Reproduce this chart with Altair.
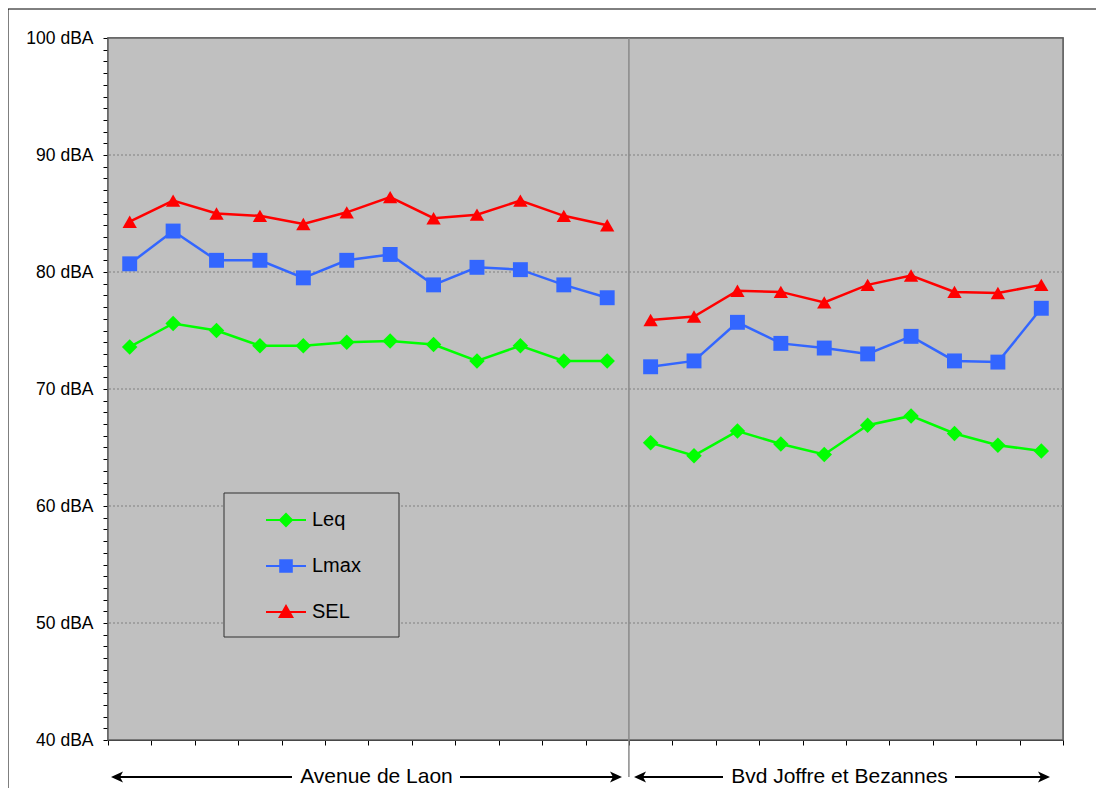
import altair as alt
import pandas as pd

# ---------------- data ----------------
series_names = ["Leq", "Lmax", "SEL"]
series_colors = ["#00ff00", "#3366ff", "#ff0000"]
group_names = ["Avenue de Laon", "Bvd Joffre et Bezannes"]

leq_avenue = [73.6, 75.6, 75.0, 73.7, 73.7, 74.0, 74.1, 73.8, 72.4, 73.7, 72.4, 72.4]
lmax_avenue = [80.7, 83.5, 81.0, 81.0, 79.5, 81.0, 81.5, 78.9, 80.4, 80.2, 78.9, 77.8]
sel_avenue = [84.3, 86.1, 85.0, 84.8, 84.1, 85.1, 86.4, 84.6, 84.9, 86.1, 84.8, 84.0]

leq_bvd = [65.4, 64.3, 66.4, 65.3, 64.4, 66.9, 67.7, 66.2, 65.2, 64.7]
lmax_bvd = [71.9, 72.4, 75.7, 73.9, 73.5, 73.0, 74.5, 72.4, 72.3, 76.9]
sel_bvd = [75.9, 76.2, 78.4, 78.3, 77.4, 78.9, 79.7, 78.3, 78.2, 78.9]

grid_levels = [50, 60, 70, 80, 90]
y_ticks = list(range(40, 101))
y_min, y_max = 40, 100

# ---------------- table ----------------
groups = [
    (group_names[0], {"Leq": leq_avenue, "Lmax": lmax_avenue, "SEL": sel_avenue}),
    (group_names[1], {"Leq": leq_bvd, "Lmax": lmax_bvd, "SEL": sel_bvd}),
]
rows = []
offset = 0
for gname, d in groups:
    n = len(d["Leq"])
    for s in series_names:
        for i, v in enumerate(d[s]):
            rows.append({"idx": offset + i, "group": gname, "series": s, "value": v})
    offset += n
df = pd.DataFrame(rows)
n_cat = offset
x_bounds = [i - 0.5 for i in range(n_cat + 1)]
separator_pos = len(leq_avenue) - 0.5

FONT = "Liberation Sans"

x_scale = alt.Scale(domain=[-0.5, n_cat - 0.5], nice=False, zero=False)
y_scale = alt.Scale(domain=[y_min, y_max], nice=False, zero=False)
x_axis = alt.Axis(values=x_bounds, labels=False, ticks=True, tickSize=5, grid=False,
                  title=None, domainColor="black", tickColor="black",
                  domainWidth=1, tickWidth=1)
y_axis = alt.Axis(values=y_ticks,
                  labelExpr="datum.value % 10 === 0 ? datum.value + ' dBA' : ''",
                  labelOverlap=False, labelFlush=False, grid=False, title=None,
                  tickSize=5, labelPadding=10, labelFontSize=17.5, labelFont=FONT,
                  labelColor="black", domainColor="black", tickColor="black",
                  domainWidth=1, tickWidth=1)

X = alt.X("idx:Q", scale=x_scale, axis=x_axis)
Y = alt.Y("value:Q", scale=y_scale, axis=y_axis)

color_scale = alt.Scale(domain=series_names, range=series_colors)

one = alt.InlineData(values=[{"k": 1}])

background = alt.Chart(one).mark_rect(fill="#c0c0c0", stroke="#606060", strokeWidth=1.5).encode(
    x=alt.XDatum(-0.5, type="quantitative", scale=x_scale, axis=x_axis),
    x2=alt.X2Datum(n_cat - 0.5),
    y=alt.YDatum(y_min, type="quantitative", scale=y_scale, axis=y_axis),
    y2=alt.Y2Datum(y_max),
)

grid = alt.Chart(pd.DataFrame({"value": grid_levels})).mark_rule(
    color="#808080", strokeDash=[2, 2], strokeWidth=1
).encode(y=Y)

separator = alt.Chart(one).mark_rule(color="#8a8a8a", strokeWidth=1.5).encode(
    x=alt.XDatum(separator_pos, type="quantitative", scale=x_scale, axis=x_axis),
    y=alt.value(0), y2=alt.value(739)
)

lines = alt.Chart(df).mark_line(strokeWidth=2.5).encode(
    x=X, y=Y,
    color=alt.Color("series:N", scale=color_scale, legend=None),
    detail="group:N",
)

points = alt.Chart(df).mark_point(filled=True, opacity=1).encode(
    x=X, y=Y,
    color=alt.Color("series:N", scale=color_scale, legend=None),
    shape=alt.Shape("series:N", scale=alt.Scale(domain=series_names,
                                                range=["diamond", "square", "triangle-up"]),
                    legend=None),
    size=alt.Size("series:N", scale=alt.Scale(domain=series_names, range=[240, 205, 260]),
                  legend=None),
)

bar = "M-1,-0.055H1V0.055H-1Z"
legend_paths = [
    bar + "M0,-0.37L0.37,0L0,0.37L-0.37,0Z",
    bar + "M-0.34,-0.34H0.34V0.34H-0.34Z",
    bar + "M0,-0.4L0.4,0.3H-0.4Z",
]
leg = alt.Legend(orient="none", legendX=158, legendY=462, title=None, padding=0,
                 rowPadding=16, labelOffset=6, labelFontSize=20, labelFont=FONT,
                 labelColor="black", symbolSize=1600, symbolStrokeWidth=0,
                 symbolOpacity=1, labelLimit=300)

legend_frame = alt.Chart(one).mark_rect(fill="#c0c0c0", stroke="#303030", strokeWidth=1).encode(
    x=alt.value(116), x2=alt.value(291), y=alt.value(455), y2=alt.value(599)
)

legend_layer = alt.Chart(df).transform_filter("false").mark_point(
    filled=True, size=1600, opacity=1
).encode(
    color=alt.Color("series:N", scale=color_scale, legend=leg),
    shape=alt.Shape("series:N", scale=alt.Scale(domain=series_names, range=legend_paths),
                    legend=leg),
)

left_head = "M-1,0L1,-0.9L0.5,0L1,0.9Z"
right_head = "M1,0L-1,-0.9L-0.5,0L-1,0.9Z"
ay = 739


def seg(x1, x2):
    return alt.Chart(one).mark_rule(color="black", strokeWidth=2).encode(
        x=alt.value(x1), x2=alt.value(x2), y=alt.value(ay))


def head(x, path):
    return alt.Chart(one).mark_point(shape=path, filled=True, size=144, color="black",
                                     opacity=1).encode(x=alt.value(x), y=alt.value(ay))


def label(x, txt):
    return alt.Chart(one).mark_text(fontSize=21, font=FONT, color="black",
                                    baseline="middle", align="center").encode(
        x=alt.value(x), y=alt.value(ay), text=alt.value(txt))


annotations = [
    seg(9, 184), head(9, left_head), seg(352, 508), head(508, right_head),
    label(268.5, group_names[0]),
    seg(532, 615), head(532, left_head), seg(847, 936), head(936, right_head),
    label(731.5, group_names[1]),
]

outer = alt.Chart(one).mark_rect(fillOpacity=0, stroke="black", strokeWidth=1).encode(
    x=alt.value(-100), x2=alt.value(1100), y=alt.value(-29), y2=alt.value(800)
)

chart = alt.layer(
    background, grid, separator, lines, points, legend_frame, legend_layer,
    *annotations, outer
).resolve_scale(
    color="independent", shape="independent", size="independent"
).properties(
    width=955, height=702,
    padding={"left": 100, "top": 30, "right": 33, "bottom": 48},
    autosize=alt.AutoSizeParams(type="none"),
).configure(
    font=FONT,
    view=alt.ViewConfig(fill="#c0c0c0", stroke="#606060", strokeWidth=1.5),
)

chart.save("out.html", embed_options={"renderer": "svg", "actions": False})
